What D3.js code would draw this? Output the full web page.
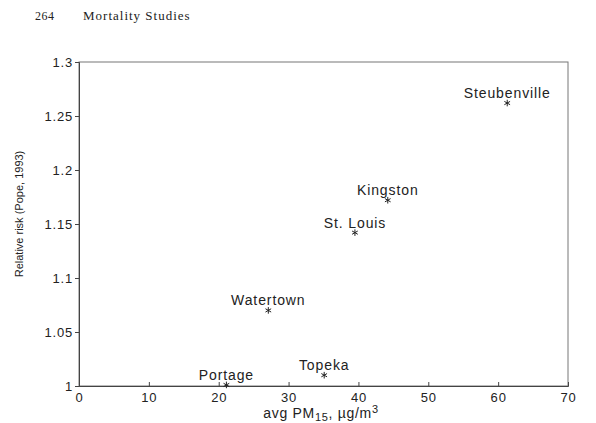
<!DOCTYPE html>
<html>
<head>
<meta charset="utf-8">
<script src="https://cdn.jsdelivr.net/npm/d3@7"></script>
<style>
  body { margin: 0; background: #fff; }
  svg text { font-family: "Liberation Sans", Arial, sans-serif; fill: #222; }
</style>
</head>
<body>
<div id="chart"></div>
<script>
// City data
const cities = ['Steubenville', 'Kingston', 'St. Louis', 'Watertown', 'Topeka', 'Portage'];
const pm15 = [61.3, 44.2, 39.5, 27.1, 35.1, 21.1];
const relRisk = [1.262, 1.172, 1.142, 1.070, 1.010, 1.001];
const xTicks = [0, 10, 20, 30, 40, 50, 60, 70];
const yTicks = [1, 1.05, 1.1, 1.15, 1.2, 1.25, 1.3];

const width = 596, height = 423;
const margin = { top: 62, right: 28, bottom: 37, left: 79 };

const svg = d3.select('#chart').append('svg')
  .attr('width', width)
  .attr('height', height);

// page header from the book scan
svg.append('text')
  .attr('x', 35).attr('y', 20)
  .style('font-family', '"Liberation Serif", serif')
  .style('font-size', '12px')
  .style('letter-spacing', '0.5px')
  .text('264');
svg.append('text')
  .attr('x', 83).attr('y', 20)
  .style('font-family', '"Liberation Serif", serif')
  .style('font-size', '13px')
  .style('letter-spacing', '1px')
  .text('Mortality Studies');

const x = d3.scaleLinear().domain([0, 70]).range([margin.left, width - margin.right]);
const y = d3.scaleLinear().domain([1, 1.3]).range([height - margin.bottom, margin.top]);

// frame
svg.append('rect')
  .attr('x', x(0)).attr('y', y(1.3))
  .attr('width', x(70) - x(0)).attr('height', y(1) - y(1.3))
  .attr('fill', 'none')
  .attr('stroke', '#777')
  .attr('stroke-width', 1);

// axes
const xAxis = svg.append('g')
  .attr('transform', `translate(0,${y(1)})`)
  .call(d3.axisBottom(x).tickValues(xTicks).tickSize(-4).tickPadding(6).tickFormat(d3.format('d')));
const yAxis = svg.append('g')
  .attr('transform', `translate(${x(0)},0)`)
  .call(d3.axisLeft(y).tickValues(yTicks).tickSize(4).tickPadding(2).tickFormat(d => String(+d.toFixed(2))));

[xAxis, yAxis].forEach(a => {
  a.select('.domain').attr('stroke', '#444');
  a.selectAll('.tick line').attr('stroke', '#444');
  a.selectAll('.tick text').style('font-size', '13px').attr('fill', '#333')
    .style('letter-spacing', '0.8px')
    .style('font-family', '"Liberation Sans", Arial, sans-serif');
});
xAxis.selectAll('.tick text').attr('dy', '0.8em');

// axis titles
const xTitle = svg.append('text')
  .attr('x', 321).attr('y', 418)
  .attr('text-anchor', 'middle')
  .style('font-size', '14px')
  .style('letter-spacing', '0.7px');
xTitle.append('tspan').text('avg PM');
xTitle.append('tspan').attr('dy', 3).style('font-size', '11px').text('15');
xTitle.append('tspan').attr('dy', -3).text(', µg/m');
xTitle.append('tspan').attr('dy', -5).style('font-size', '11px').text('3');

svg.append('text')
  .attr('transform', `translate(23,${(y(1) + y(1.3)) / 2 - 10}) rotate(-90)`)
  .attr('text-anchor', 'middle')
  .style('font-size', '11px')
  .text('Relative risk (Pope, 1993)');

// points
const symbolType = d3.symbolAsterisk || d3.symbolCross;
const sym = d3.symbol().type(symbolType).size(30);
const data = cities.map((c, i) => ({ name: c, x: pm15[i], y: relRisk[i] }));

const pts = svg.append('g').selectAll('g')
  .data(data)
  .join('g')
  .attr('transform', d => `translate(${x(d.x)},${y(d.y)})`);

pts.append('path')
  .attr('d', sym)
  .attr('fill', 'none')
  .attr('stroke', '#222')
  .attr('stroke-width', 1);

pts.append('text')
  .attr('y', -5)
  .attr('text-anchor', 'middle')
  .style('font-size', '14px')
  .style('letter-spacing', '0.9px')
  .text(d => d.name);
</script>
</body>
</html>
